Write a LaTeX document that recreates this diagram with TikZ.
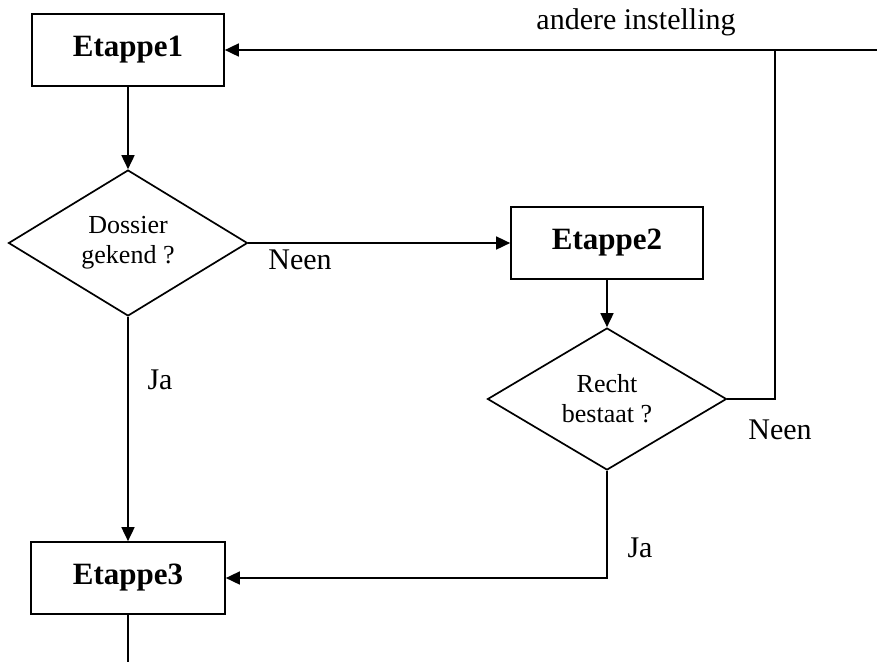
\documentclass[tikz,border=0pt]{standalone}
\usepackage{fontspec}
\setmainfont{Liberation Serif}
\usetikzlibrary{shapes.geometric,arrows.meta}
\begin{document}
\begin{tikzpicture}[x=1pt,y=-1pt,
  line width=1.7pt,
  stepbox/.style={draw,rectangle,minimum width=192pt,minimum height=72pt,inner sep=0pt,font=\fontsize{31}{33}\selectfont\bfseries},
  decision/.style={draw,diamond,minimum width=239pt,minimum height=142pt,inner sep=0pt,align=center,font=\fontsize{26}{30}\selectfont},
  lbl/.style={font=\fontsize{30}{32}\selectfont,inner sep=0pt},
  arr/.style={-{Triangle[length=14pt,width=13pt]}}]
\useasboundingbox (0,0) rectangle (877,662);
\node[stepbox] (e1) at (128,50) {Etappe1};
\node[decision] (d1) at (128,243) {Dossier\\gekend ?};
\node[stepbox] (e2) at (607,243) {Etappe2};
\node[decision] (d2) at (607,399) {Recht\\bestaat ?};
\node[stepbox,minimum width=194pt] (e3) at (128,578) {Etappe3};
\coordinate (c1) at (775,399);
\coordinate (c2) at (775,50);
\coordinate (c3) at (877,50);
\coordinate (c4) at (128,662);
\node[lbl] (t1) at (636,22) {andere instelling};
\node[lbl] (t2) at (300,260) {Neen};
\node[lbl] (t3) at (780,430) {Neen};
\node[lbl] (t4) at (160,380) {Ja};
\node[lbl] (t5) at (640,548) {Ja};
\draw[arr] (e1.south) -- (d1.north);
\draw[arr] (d1.east) -- (e2.west);
\draw[arr] (e2.south) -- (d2.north);
\draw[arr] (d2.east) -- (c1) -- (c2) -- (e1.east);
\draw (c2) -- (c3);
\draw[arr] (d2.south) |- (e3.east);
\draw[arr] (d1.south) -- (e3.north);
\draw (e3.south) -- (c4);
\end{tikzpicture}
\end{document}
